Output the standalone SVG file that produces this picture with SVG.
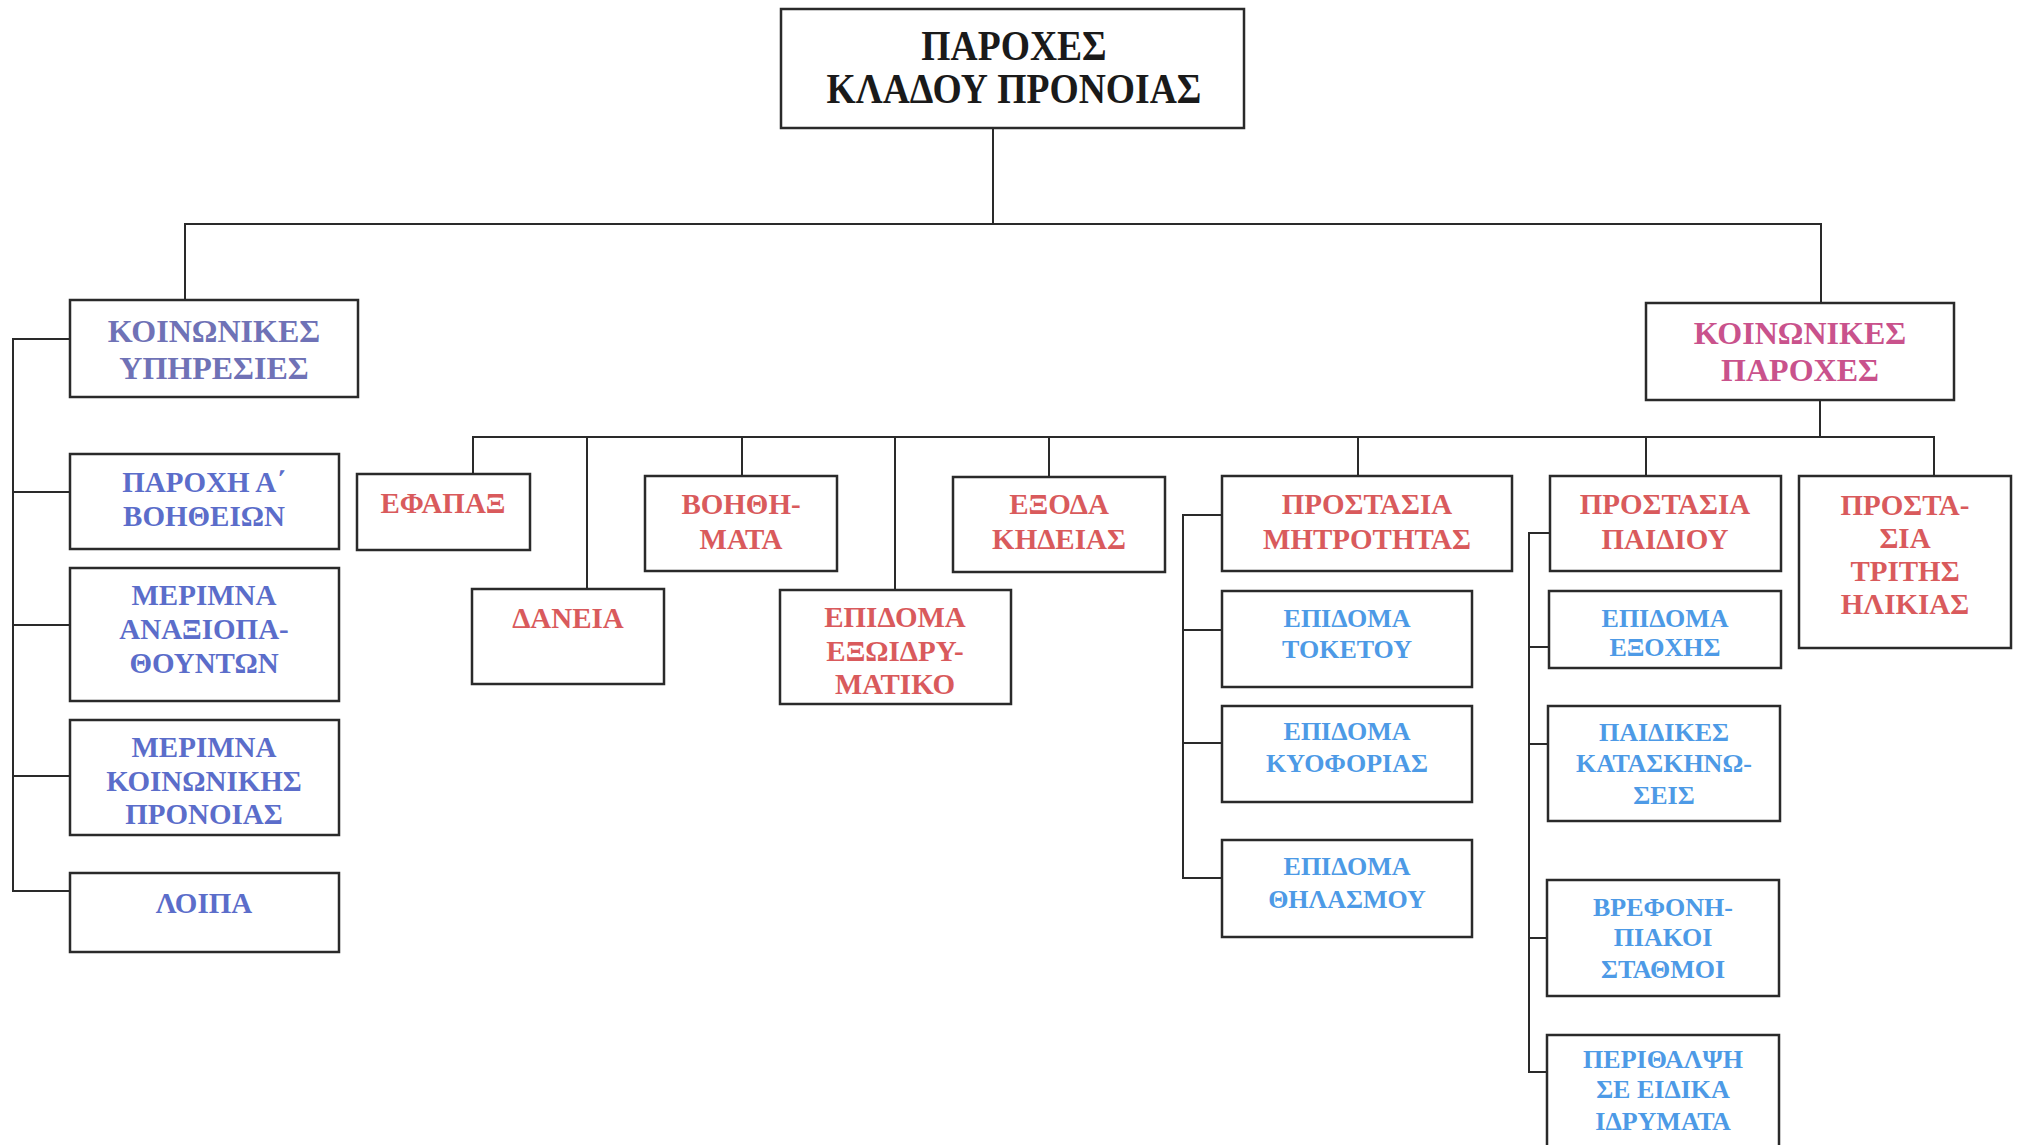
<svg xmlns="http://www.w3.org/2000/svg" width="2021" height="1145" viewBox="0 0 2021 1145">
<style>
  .bx{fill:#fff;stroke:#2a2a2a;stroke-width:2.5}
  .ln{fill:none;stroke:#2a2a2a;stroke-width:2}
  text{font-family:"Liberation Serif","Times New Roman",serif;font-weight:bold;text-anchor:middle}
  .root{font-size:42px;fill:#1a1a1a;transform-box:fill-box;transform-origin:center;transform:scaleX(0.895)}
  .h1{font-size:32px;fill:#6f72b6}
  .h2{font-size:32px;fill:#c9528c}
  .b{font-size:29px;fill:#5b6dca}
  .r{font-size:29px;fill:#d95a5c}
  .lb{font-size:26px;fill:#4d9ae6}
</style>
<rect width="2021" height="1145" fill="#fff"/>
<g id="connectors">
  <path class="ln" d="M993,128V224M185,300V224H1821V303"/>
  <path class="ln" d="M70,339H13V891H70M13,492H70M13,625H70M13,776H70"/>
  <path class="ln" d="M1820,400V437M473,474V437H1934V476M587,589V437M742,476V437M895,590V437M1049,477V437M1358,476V437M1646,476V437"/>
  <path class="ln" d="M1222,515H1183V878H1222M1183,630H1222M1183,743H1222"/>
  <path class="ln" d="M1550,533H1529V1072H1547M1529,647H1549M1529,744H1548M1529,938H1547"/>
</g>
<g id="root"><rect class="bx" x="781" y="9" width="463" height="119"/>
  <text class="root" x="1014" y="60">ΠΑΡΟΧΕΣ</text><text class="root" x="1014" y="103">ΚΛΑΔΟΥ ΠΡΟΝΟΙΑΣ</text></g>
<g id="koin-yphresies"><rect class="bx" x="70" y="300" width="288" height="97"/>
  <text class="h1" x="214" y="342">ΚΟΙΝΩΝΙΚΕΣ</text><text class="h1" x="214" y="379">ΥΠΗΡΕΣΙΕΣ</text></g>
<g id="koin-paroxes"><rect class="bx" x="1646" y="303" width="308" height="97"/>
  <text class="h2" x="1800" y="344">ΚΟΙΝΩΝΙΚΕΣ</text><text class="h2" x="1800" y="381">ΠΑΡΟΧΕΣ</text></g>
<g id="paroxi-a"><rect class="bx" x="70" y="454" width="269" height="95"/>
  <text class="b" x="204" y="492">ΠΑΡΟΧΗ Α΄</text><text class="b" x="204" y="526">ΒΟΗΘΕΙΩΝ</text></g>
<g id="merimna-anax"><rect class="bx" x="70" y="568" width="269" height="133"/>
  <text class="b" x="204" y="605">ΜΕΡΙΜΝΑ</text><text class="b" x="204" y="639">ΑΝΑΞΙΟΠΑ-</text><text class="b" x="204" y="673">ΘΟΥΝΤΩΝ</text></g>
<g id="merimna-koin"><rect class="bx" x="70" y="720" width="269" height="115"/>
  <text class="b" x="204" y="757">ΜΕΡΙΜΝΑ</text><text class="b" x="204" y="791">ΚΟΙΝΩΝΙΚΗΣ</text><text class="b" x="204" y="824">ΠΡΟΝΟΙΑΣ</text></g>
<g id="loipa"><rect class="bx" x="70" y="873" width="269" height="79"/>
  <text class="b" x="204" y="913">ΛΟΙΠΑ</text></g>
<g id="efapax"><rect class="bx" x="357" y="474" width="173" height="76"/>
  <text class="r" x="443" y="513">ΕΦΑΠΑΞ</text></g>
<g id="daneia"><rect class="bx" x="472" y="589" width="192" height="95"/>
  <text class="r" x="568" y="628">ΔΑΝΕΙΑ</text></g>
<g id="voithimata"><rect class="bx" x="645" y="476" width="192" height="95"/>
  <text class="r" x="741" y="514">ΒΟΗΘΗ-</text><text class="r" x="741" y="549">ΜΑΤΑ</text></g>
<g id="exoidrymatiko"><rect class="bx" x="780" y="590" width="231" height="114"/>
  <text class="r" x="895" y="627">ΕΠΙΔΟΜΑ</text><text class="r" x="895" y="661">ΕΞΩΙΔΡΥ-</text><text class="r" x="895" y="694">ΜΑΤΙΚΟ</text></g>
<g id="exoda-kideias"><rect class="bx" x="953" y="477" width="212" height="95"/>
  <text class="r" x="1059" y="514">ΕΞΟΔΑ</text><text class="r" x="1059" y="549">ΚΗΔΕΙΑΣ</text></g>
<g id="prostasia-mitrotitas"><rect class="bx" x="1222" y="476" width="290" height="95"/>
  <text class="r" x="1367" y="514">ΠΡΟΣΤΑΣΙΑ</text><text class="r" x="1367" y="549">ΜΗΤΡΟΤΗΤΑΣ</text></g>
<g id="epidoma-toketou"><rect class="bx" x="1222" y="591" width="250" height="96"/>
  <text class="lb" x="1347" y="627">ΕΠΙΔΟΜΑ</text><text class="lb" x="1347" y="658">ΤΟΚΕΤΟΥ</text></g>
<g id="epidoma-kyoforias"><rect class="bx" x="1222" y="706" width="250" height="96"/>
  <text class="lb" x="1347" y="740">ΕΠΙΔΟΜΑ</text><text class="lb" x="1347" y="772">ΚΥΟΦΟΡΙΑΣ</text></g>
<g id="epidoma-thilasmou"><rect class="bx" x="1222" y="840" width="250" height="97"/>
  <text class="lb" x="1347" y="875">ΕΠΙΔΟΜΑ</text><text class="lb" x="1347" y="908">ΘΗΛΑΣΜΟΥ</text></g>
<g id="prostasia-paidiou"><rect class="bx" x="1550" y="476" width="231" height="95"/>
  <text class="r" x="1665" y="514">ΠΡΟΣΤΑΣΙΑ</text><text class="r" x="1665" y="549">ΠΑΙΔΙΟΥ</text></g>
<g id="epidoma-exochis"><rect class="bx" x="1549" y="591" width="232" height="77"/>
  <text class="lb" x="1665" y="627">ΕΠΙΔΟΜΑ</text><text class="lb" x="1665" y="656">ΕΞΟΧΗΣ</text></g>
<g id="paidikes-kataskinoseis"><rect class="bx" x="1548" y="706" width="232" height="115"/>
  <text class="lb" x="1664" y="741">ΠΑΙΔΙΚΕΣ</text><text class="lb" x="1664" y="772">ΚΑΤΑΣΚΗΝΩ-</text><text class="lb" x="1664" y="804">ΣΕΙΣ</text></g>
<g id="vrefonipiakoi"><rect class="bx" x="1547" y="880" width="232" height="116"/>
  <text class="lb" x="1663" y="916">ΒΡΕΦΟΝΗ-</text><text class="lb" x="1663" y="946">ΠΙΑΚΟΙ</text><text class="lb" x="1663" y="978">ΣΤΑΘΜΟΙ</text></g>
<g id="perithalpsi"><rect class="bx" x="1547" y="1035" width="232" height="130"/>
  <text class="lb" x="1663" y="1068">ΠΕΡΙΘΑΛΨΗ</text><text class="lb" x="1663" y="1098">ΣΕ ΕΙΔΙΚΑ</text><text class="lb" x="1663" y="1130">ΙΔΡΥΜΑΤΑ</text></g>
<g id="prostasia-tritis"><rect class="bx" x="1799" y="476" width="212" height="172"/>
  <text class="r" x="1905" y="515">ΠΡΟΣΤΑ-</text><text class="r" x="1905" y="548">ΣΙΑ</text><text class="r" x="1905" y="581">ΤΡΙΤΗΣ</text><text class="r" x="1905" y="614">ΗΛΙΚΙΑΣ</text></g>
</svg>
